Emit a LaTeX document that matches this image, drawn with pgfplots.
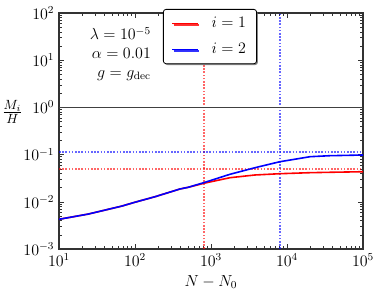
\documentclass[border=0pt]{standalone}
\usepackage{pgfplots}
\pgfplotsset{compat=1.18}
\usetikzlibrary{shadows}
\begin{document}
\begin{tikzpicture}[font=\large]
\begin{axis}[
  name=ax,
  scale only axis,
  width=228pt, height=177pt,
  xmode=log, ymode=log,
  xmin=10, xmax=1e5, ymin=1e-3, ymax=1e2,
  xtick={10,100,1000,10000,100000},
  ytick={1e-3,1e-2,1e-1,1,10,100},
  tick align=inside,
  xtick pos=both, ytick pos=both,
  major tick length=4pt, minor tick length=2pt,
  axis line style={black!80, line width=0.8pt},
  every tick/.style={black!80, line width=0.4pt},
  tick label style={font=\large},
  label style={font=\large},
  xlabel={$N-N_0$},
  clip=true,
  legend style={at={(rel axis cs:0.342,1.017)}, anchor=north west,
    draw=black, fill=white, rounded corners=2pt, line width=0.6pt,
    drop shadow={shadow xshift=1pt, shadow yshift=-1pt, fill=black!60, opacity=0.8},
    inner xsep=6pt, inner ysep=4pt, row sep=6pt,
    font=\large},
  legend cell align=left,
  legend image code/.code={\draw[#1] (0pt,0pt) -- (19pt,0pt);},
  every axis legend/.append style={/tikz/every odd column/.append style={column sep=8pt}},
]
% reference lines
\addplot[color=red, dash pattern=on 1.2pt off 1.2pt, line width=1.3pt, opacity=0.6, forget plot] coordinates {(800,1e-3) (800,1e2)};
\addplot[color=blue, dash pattern=on 1.2pt off 1.2pt, line width=1.3pt, opacity=0.6, forget plot] coordinates {(8000,1e-3) (8000,1e2)};
\addplot[color=blue, dash pattern=on 1.2pt off 1.2pt, line width=1.3pt, opacity=0.6, forget plot] coordinates {(10,0.115) (1e5,0.115)};
\addplot[color=red, dash pattern=on 1.2pt off 1.2pt, line width=1.3pt, opacity=0.6, forget plot] coordinates {(10,0.0503) (1e5,0.0503)};
\addplot[black!75, line width=0.8pt, forget plot] coordinates {(10,1) (1e5,1)};
% curves
\addplot[red, line width=1.2pt] coordinates {
(10,0.00426) (24.3,0.0055) (66.8,0.0081) (100,0.0098) (183,0.0128) (391,0.0187) (502,0.0203)
(834,0.0250) (1778,0.0324) (3793,0.0370) (8091,0.0394) (20090,0.0414) (36800,0.0422) (100000,0.0434)};
\addlegendentry{$i=1$}
\addplot[blue, line width=1.2pt] coordinates {
(10,0.00426) (24.3,0.0055) (66.8,0.0081) (100,0.0098) (183,0.0128) (391,0.0187) (502,0.0203)
(834,0.0259) (1778,0.0383) (3793,0.0528) (8091,0.0708) (20090,0.0903) (36800,0.0948) (100000,0.098)};
\addlegendentry{$i=2$}
\coordinate (yl) at (rel axis cs:0,0.582);
\coordinate (tx) at (rel axis cs:0.303,0.941);
\end{axis}
\node[anchor=north east, align=right, inner sep=0pt, font=\large] at (tx)
  {$\lambda=10^{-5}$\\[0pt] $\alpha=0.01$\\[0pt] $g=g_{\mathrm{dec}}$};
\node[font=\Large] at ([xshift=-35pt]yl) {$\frac{M_i}{H}$};
\pgfresetboundingbox
\useasboundingbox ([xshift=-44.25pt,yshift=-32.25pt]ax.south west) rectangle ([xshift=12pt,yshift=9.75pt]ax.north east);
\end{tikzpicture}
\end{document}
